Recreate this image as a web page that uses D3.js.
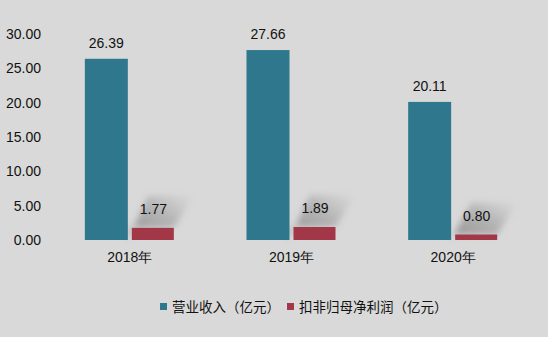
<!DOCTYPE html>
<html><head><meta charset="utf-8">
<script src="https://cdn.jsdelivr.net/npm/d3@7"></script>
<style>html,body{margin:0;padding:0;background:#d9d9d9;}</style>
</head><body>
<svg id="c" width="548" height="337"></svg>
<script>
const categories = ["2018年", "2019年", "2020年"];
const revenue = [26.39, 27.66, 20.11];
const profit = [1.77, 1.89, 0.80];
const seriesNames = ["营业收入（亿元）", "扣非归母净利润（亿元）"];
const yTicks = [0, 5, 10, 15, 20, 25, 30];
const colors = ["#2f778c", "#a23748"];

const svg = d3.select("#c");
svg.append("rect").attr("width", 548).attr("height", 337).attr("fill", "#d9d9d9");
const font = "'Liberation Sans', Arial, sans-serif";
const cjk = "'Noto Sans CJK SC', sans-serif";

const x = d3.scaleBand().domain(categories).range([49, 534]).paddingInner(0).paddingOuter(0);
const y = d3.scaleLinear().domain([0, 30]).range([240, 34]);
const bw = 43, gap = 4;

const defs = svg.append("defs");
defs.append("filter").attr("id", "blur").attr("x", "-50%").attr("y", "-50%").attr("width", "200%").attr("height", "200%")
  .append("feGaussianBlur").attr("stdDeviation", 3);
const grad = defs.append("linearGradient").attr("id", "sg").attr("x1", "0").attr("y1", "1").attr("x2", "1").attr("y2", "0");
grad.append("stop").attr("offset", "0").attr("stop-color", "#777").attr("stop-opacity", 0.75);
grad.append("stop").attr("offset", "0.55").attr("stop-color", "#888").attr("stop-opacity", 0.45);
grad.append("stop").attr("offset", "1").attr("stop-color", "#999").attr("stop-opacity", 0.0);

// y axis labels
const yAxis = d3.axisLeft(y).tickValues(yTicks).tickFormat(d3.format(".2f")).tickSize(0).tickPadding(0);
const ga = svg.append("g").attr("transform", "translate(41,0)").call(yAxis);
ga.select(".domain").remove();
ga.selectAll("text").attr("font-family", font).attr("font-size", 14).attr("fill", "#111");

// x labels
const xAxis = d3.axisBottom(x).tickSize(0).tickPadding(0);
const gx = svg.append("g").attr("transform", "translate(0,252)").call(xAxis);
gx.select(".domain").remove();
gx.selectAll("text").attr("font-family", font).attr("font-size", 14).attr("fill", "#111").attr("dy", "0.7em");

const cx = d => x(d) + x.bandwidth() / 2;

// shadows behind red labels
categories.forEach((c, i) => {
  const x0 = cx(c) + gap / 2, x1 = x0 + bw - 1, yt = y(profit[i]);
  const pts = [[x0 - 4, y(0)], [x0 - 2, yt], [x1, yt], [x1 + 20, yt - 32], [x0 + 16, yt - 32]];
  svg.append("polygon").attr("points", pts.map(p => p.join(",")).join(" "))
    .attr("fill", "url(#sg)").attr("filter", "url(#blur)");
});

// revenue bars
svg.selectAll(".rev").data(revenue).enter().append("rect")
  .attr("x", (d, i) => cx(categories[i]) - gap / 2 - bw)
  .attr("y", d => y(d)).attr("width", bw).attr("height", d => y(0) - y(d))
  .attr("fill", colors[0]);
svg.selectAll(".pro").data(profit).enter().append("rect")
  .attr("x", (d, i) => cx(categories[i]) + gap / 2)
  .attr("y", d => y(d)).attr("width", bw - 1).attr("height", d => y(0) - y(d))
  .attr("fill", colors[1]);

// labels
svg.selectAll(".rl").data(revenue).enter().append("text")
  .attr("x", (d, i) => cx(categories[i]) - gap / 2 - bw / 2)
  .attr("y", d => y(d) - 11).attr("text-anchor", "middle")
  .attr("font-family", font).attr("font-size", 14).attr("fill", "#111")
  .text(d => d.toFixed(2));
svg.selectAll(".pl").data(profit).enter().append("text")
  .attr("x", (d, i) => cx(categories[i]) + gap / 2 + bw / 2)
  .attr("y", d => y(d) - 14).attr("text-anchor", "middle")
  .attr("font-family", font).attr("font-size", 14).attr("fill", "#111")
  .text(d => d.toFixed(2));

// legend
const leg = [[160, seriesNames[0], colors[0]], [287, seriesNames[1], colors[1]]];
leg.forEach(([lx, name, col]) => {
  svg.append("rect").attr("x", lx).attr("y", 303).attr("width", 7).attr("height", 7).attr("fill", col);
  svg.append("text").attr("x", lx + 12).attr("y", 312).attr("font-family", cjk).attr("font-size", 13.5)
    .attr("fill", "#111").text(name);
});
</script>
</body></html>
